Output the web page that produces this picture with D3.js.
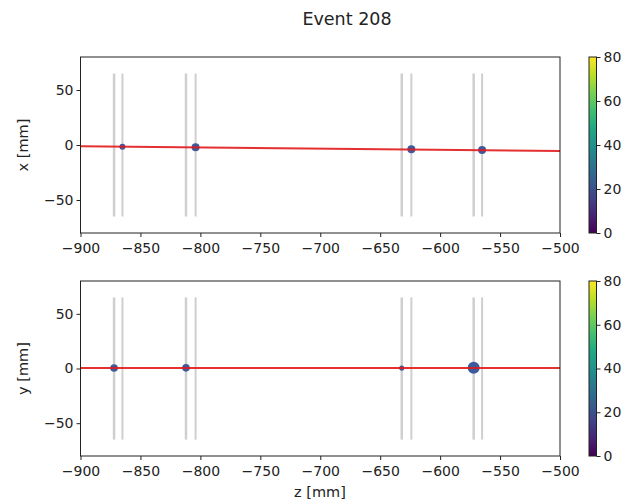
<!DOCTYPE html>
<html>
<head>
<meta charset="utf-8">
<script src="https://cdn.jsdelivr.net/npm/d3@7"></script>
<style>
  body { margin: 0; background: #fff; }
  text { font-family: "DejaVu Sans", sans-serif; fill: #222; }
</style>
</head>
<body>
<div id="chart"></div>
<script>
// Data.
const TITLE = "Event 208";
const zTicks = [-900, -850, -800, -750, -700, -650, -600, -550, -500];
const yTicks = [-50, 0, 50];
const cbTicks = [0, 20, 40, 60, 80];

// detector planes (z positions), drawn as grey bars from -65 to 65
const planeZ = [-872, -865, -812, -804, -632, -624, -572, -565];
const planeHalf = 65;

// hits in x-z view
const hitsXZ_z = [-865, -804, -624, -565];
const hitsXZ_x = [-1.5, -2.1, -3.9, -4.5];
const hitsXZ_r = [3, 4, 4, 4];

// hits in y-z view
const hitsYZ_z = [-872, -812, -632, -572];
const hitsYZ_y = [0.5, 0.6, 0.4, 0.6];
const hitsYZ_r = [3.8, 3.8, 2.6, 6];

// fitted track: value at z = -900 and z = -500
const fitZ = [-900, -500];
const fitX = [-1.2, -5.4];
const fitY = [0.4, 0.4];

const W = 631, H = 502;
const TICK_FS = "14px", LABEL_FS = "14.5px";
const svg = d3.select("#chart").append("svg").attr("width", W).attr("height", H);

const xScale = d3.scaleLinear().domain([-900, -500]).range([80.5, 560]);
const fmt = d => d < 0 ? "\u2212" + Math.abs(d) : String(d);

svg.append("text")
   .attr("x", 347).attr("y", 25)
   .attr("text-anchor", "middle")
   .attr("font-size", "17.5px")
   .text(TITLE);

function styleAxis(a) {
    a.select(".domain").remove();
    a.selectAll("text").attr("font-size", TICK_FS).attr("fill", "#222")
     .attr("font-family", "DejaVu Sans, sans-serif");
    a.selectAll("line").attr("stroke", "#222");
}

function panel(top, bottom, label, hz, hv, hr, fitV) {
    const y = d3.scaleLinear().domain([-80, 80]).range([bottom, top]);
    const g = svg.append("g");

    // planes
    g.selectAll("line.plane").data(planeZ).enter().append("line")
     .attr("class", "plane")
     .attr("x1", d => xScale(d)).attr("x2", d => xScale(d))
     .attr("y1", y(planeHalf)).attr("y2", y(-planeHalf))
     .attr("stroke", "#cfcfcf")
     .attr("stroke-width", (d, i) => i % 2 == 0 ? 2.5 : 2);

    // hits
    g.selectAll("circle").data(hz).enter().append("circle")
     .attr("cx", d => xScale(d))
     .attr("cy", (d, i) => y(hv[i]))
     .attr("r", (d, i) => hr[i])
     .attr("fill", "#3d5a9b");

    // fit
    g.append("line")
     .attr("x1", xScale(fitZ[0])).attr("y1", y(fitV[0]))
     .attr("x2", xScale(fitZ[1])).attr("y2", y(fitV[1]))
     .attr("stroke", "#e31a1c").attr("stroke-width", 2).attr("opacity", 0.9);

    // frame
    g.append("rect")
     .attr("x", xScale.range()[0]).attr("y", top)
     .attr("width", xScale.range()[1] - xScale.range()[0]).attr("height", bottom - top)
     .attr("fill", "none").attr("stroke", "#222").attr("stroke-width", 1);

    const xa = g.append("g").attr("transform", "translate(0," + bottom + ")")
                .call(d3.axisBottom(xScale).tickValues(zTicks).tickFormat(fmt).tickSizeOuter(0).tickSize(4));
    const ya = g.append("g").attr("transform", "translate(" + xScale.range()[0] + ",0)")
                .call(d3.axisLeft(y).tickValues(yTicks).tickFormat(fmt).tickSizeOuter(0).tickSize(4));
    styleAxis(xa);
    styleAxis(ya);
    xa.selectAll("text").attr("dy", "0.95em");

    svg.append("text")
       .attr("transform", "translate(28," + ((top + bottom) / 2) + ") rotate(-90)")
       .attr("text-anchor", "middle")
       .attr("font-size", LABEL_FS)
       .text(label);

    // colorbar
    const cb = d3.scaleLinear().domain([0, 80]).range([bottom, top]);
    const cbX = 589, cbW = 7.5;
    const gid = "grad" + Math.round(top);
    const grad = svg.append("defs").append("linearGradient")
                    .attr("id", gid).attr("x1", 0).attr("x2", 0).attr("y1", 1).attr("y2", 0);
    d3.range(0, 1.0001, 0.1).forEach(t => {
        grad.append("stop").attr("offset", t).attr("stop-color", d3.interpolateViridis(t));
    });
    svg.append("rect").attr("x", cbX).attr("y", top).attr("width", cbW).attr("height", bottom - top)
       .attr("fill", "url(#" + gid + ")").attr("stroke", "#222").attr("stroke-width", 1);
    const ca = svg.append("g").attr("transform", "translate(" + (cbX + cbW) + ",0)")
                  .call(d3.axisRight(cb).tickValues(cbTicks).tickSizeOuter(0).tickSize(4));
    styleAxis(ca);
}

panel(57, 233, "x [mm]", hitsXZ_z, hitsXZ_x, hitsXZ_r, fitX);
panel(281, 456, "y [mm]", hitsYZ_z, hitsYZ_y, hitsYZ_r, fitY);

svg.append("text")
   .attr("x", 320).attr("y", 497)
   .attr("text-anchor", "middle")
   .attr("font-size", LABEL_FS)
   .text("z [mm]");
</script>
</body>
</html>
